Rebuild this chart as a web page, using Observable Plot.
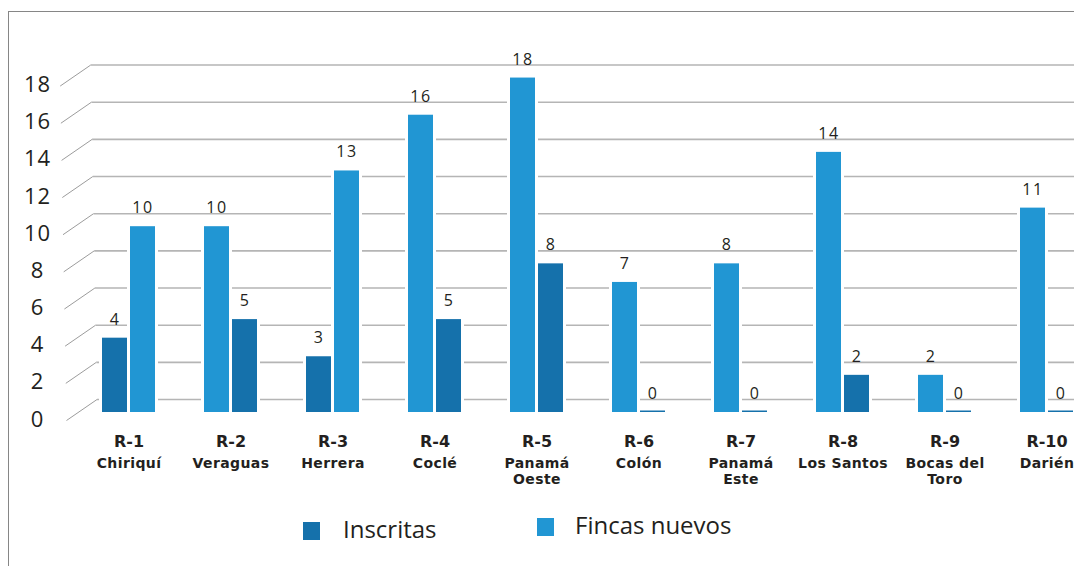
<!DOCTYPE html>
<html>
<head>
<meta charset="utf-8">
<script src="https://cdn.jsdelivr.net/npm/d3@7"></script>
<script src="https://cdn.jsdelivr.net/npm/@observablehq/plot@0.6"></script>
<style>
  html, body { margin: 0; padding: 0; background: #fff; width: 1074px; height: 566px; overflow: hidden; }
  #chart { position: absolute; left: 0; top: 0; }
  #frame { position: absolute; left: 8px; top: 11px; width: 1070px; height: 560px;
           border-left: 1.5px solid #868686; border-top: 1.5px solid #868686; pointer-events: none; }
  .legend-item { position: absolute; font-family: "Open Sans", sans-serif; font-size: 24px; line-height: 24px;
                 color: #231f20; white-space: nowrap; }
  .swatch { position: absolute; width: 17px; height: 18px; }
  g[aria-description="valores"] text { letter-spacing: 1.5px; }
  g[aria-description="eje"] text { letter-spacing: 1px; }
  g[aria-description="nombres"] text { letter-spacing: 0.4px; }
</style>
</head>
<body>
<div id="chart"></div>
<div id="legend"></div>
<div id="frame"></div>
<script>
// ---- data ----
const regions = ["R-1", "R-2", "R-3", "R-4", "R-5", "R-6", "R-7", "R-8", "R-9", "R-10"];
const regionNames = ["Chiriquí", "Veraguas", "Herrera", "Coclé", "Panamá\nOeste", "Colón", "Panamá\nEste", "Los Santos", "Bocas del\nToro", "Darién"];
const inscritas = [4, 5, 3, 5, 8, 0, 0, 2, 0, 0];
const fincasNuevos = [10, 10, 13, 16, 18, 7, 8, 14, 2, 11];
const inscritasFirst = [true, false, true, false, false, false, false, false, false, false];
const series = ["Inscritas", "Fincas nuevos"];
const colors = ["#1571ab", "#2196d3"];
const yTicks = [0, 2, 4, 6, 8, 10, 12, 14, 16, 18];

// ---- table ----
const rows = regions.flatMap((r, i) => {
  const a = {region: r, series: "Inscritas", value: inscritas[i]};
  const b = {region: r, series: "Fincas nuevos", value: fincasNuevos[i]};
  const [l, rr] = inscritasFirst[i] ? [a, b] : [b, a];
  return [{...l, slot: "left"}, {...rr, slot: "right"}];
});
const labels = regions.map((r, i) => ({region: r, name: regionNames[i]}));

const slots = ["left", "right"];
const barInsets = {left: {insetLeft: 0, insetRight: 28}, right: {insetLeft: 28, insetRight: 0}};
const backInsets = {left: {insetLeft: -3, insetRight: 25}, right: {insetLeft: 25, insetRight: -3}};
const slotDx = {left: -14, right: 14};

function grid(index, scales, values, dimensions) {
  const y = scales.y;
  const g = d3.create("svg:g").attr("aria-label", "grid");
  for (const v of yTicks) {
    const yb = y(v) - 12.5, yf = y(v) + 8.5;
    const xb = 97 - 0.35 * v, xf = 66.5 - 0.35 * v;
    g.append("line").attr("x1", xf).attr("y1", yf).attr("x2", xb).attr("y2", yb)
      .attr("stroke", "#9c9c9c").attr("stroke-width", 1);
    g.append("line").attr("x1", xb).attr("y1", yb).attr("x2", dimensions.width).attr("y2", yb)
      .attr("stroke", "#b5b5b5").attr("stroke-width", 1.6);
  }
  return g.node();
}

const marks = [grid];
for (const s of slots) {
  const d = rows.filter(r => r.slot === s);
  marks.push(Plot.barY(d, {x: "region", y: "value", fill: "white", ...backInsets[s]}));
}
for (const s of slots) {
  const d = rows.filter(r => r.slot === s);
  marks.push(Plot.barY(d.filter(r => r.value > 0), {x: "region", y: "value", fill: "series", ...barInsets[s]}));
  marks.push(Plot.barY(d.filter(r => r.value === 0), {x: "region", y: "value", fill: "series", insetTop: -1.5, ...barInsets[s]}));
  marks.push(Plot.text(d, {
    x: "region", y: "value", text: r => String(r.value), dx: slotDx[s], dy: -13.5,
    lineAnchor: "bottom", fontSize: 16, fontFamily: "Open Sans", fill: "#231f20", ariaDescription: "valores"
  }));
}
marks.push(Plot.text(yTicks, {
  y: d => d, text: d => String(d), frameAnchor: "left", dx: -57, dy: 7, textAnchor: "middle",
  fontSize: 22, fontFamily: "Open Sans", fill: "#231f20", ariaDescription: "eje"
}));
marks.push(Plot.text(labels, {
  x: "region", text: "region", frameAnchor: "bottom", lineAnchor: "bottom", dy: 34,
  fontSize: 16, fontWeight: "bold", fontFamily: "DejaVu Sans", fill: "#231f20"
}));
marks.push(Plot.text(labels, {
  x: "region", text: "name", frameAnchor: "bottom", lineAnchor: "top", dy: 43, lineHeight: 1.21,
  fontSize: 14, fontWeight: "bold", fontFamily: "DejaVu Sans", fill: "#231f20", ariaDescription: "nombres"
}));

const chart = Plot.plot({
  width: 1074,
  height: 495,
  marginLeft: 94,
  marginRight: 0,
  marginTop: 20,
  marginBottom: 83,
  x: {domain: regions, range: [73.6, 1101.4], paddingInner: 0.484, paddingOuter: 0.242, axis: null},
  y: {domain: [0, 20], range: [412, 40.4], axis: null},
  color: {domain: series, range: colors},
  style: {background: "transparent", overflow: "hidden"},
  marks
});
document.getElementById("chart").appendChild(chart);

// ---- legend (HTML, below the chart area) ----
const legend = document.getElementById("legend");
const legendPos = [
  {sx: 303, sy: 522, tx: 343, ty: 516.7},
  {sx: 537, sy: 518, tx: 575, ty: 512.7}
];
series.forEach((s, i) => {
  const sw = document.createElement("div");
  sw.className = "swatch";
  sw.style.left = legendPos[i].sx + "px";
  sw.style.top = legendPos[i].sy + "px";
  sw.style.background = colors[i];
  legend.appendChild(sw);
  const t = document.createElement("div");
  t.className = "legend-item";
  t.style.left = legendPos[i].tx + "px";
  t.style.top = legendPos[i].ty + "px";
  t.textContent = s;
  legend.appendChild(t);
});
</script>
</body>
</html>
